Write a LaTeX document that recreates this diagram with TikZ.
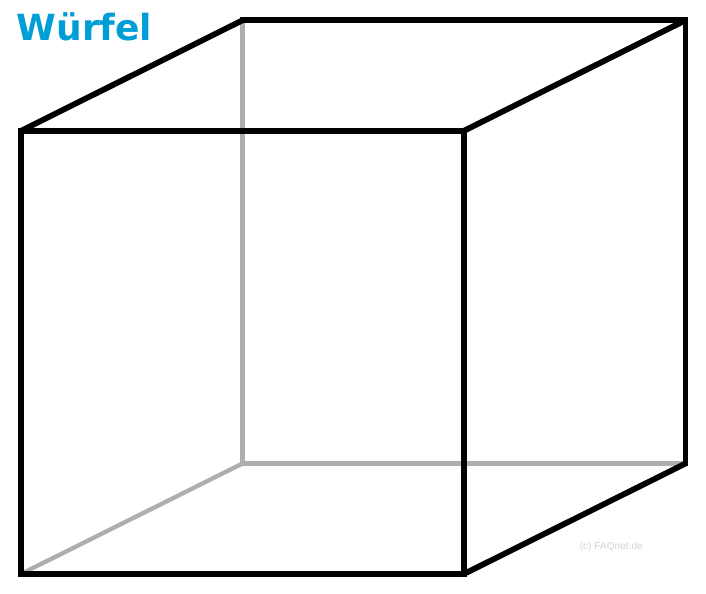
\documentclass[tikz,border=0pt]{standalone}
\usepackage{fontspec}
\setmainfont{DejaVu Sans}
\newfontfamily\markfont{Liberation Sans}
\definecolor{titleblue}{RGB}{0,158,214}
\definecolor{hiddengrey}{RGB}{174,174,174}
\definecolor{markgrey}{RGB}{212,212,212}
\tikzset{
  visibleedge/.style={draw=black,line width=4.3pt,line join=miter,line cap=rect},
  hiddenedge/.style={draw=hiddengrey,line width=3.9pt,line join=miter},
  titletext/.style={font=\fontsize{27pt}{30pt}\selectfont\bfseries,text=titleblue,inner sep=0pt,anchor=base west},
  marktext/.style={font=\markfont\fontsize{7.6pt}{8pt}\selectfont,text=markgrey,inner sep=0pt,anchor=base west}
}
\begin{document}
\begin{tikzpicture}[x=0.75pt,y=-0.75pt]
\useasboundingbox (0,0) rectangle (706,593);
\fill[white] (0,0) rectangle (706,593);
\coordinate (ftl) at (21.3,130.7);
\coordinate (ftr) at (464.2,130.7);
\coordinate (fbl) at (21.3,573.8);
\coordinate (fbr) at (464.2,573.8);
\coordinate (btl) at (242.5,20.3);
\coordinate (btr) at (685.5,20.3);
\coordinate (bbl) at (242.5,463.5);
\coordinate (bbr) at (685.5,463.5);
% hidden edges
\draw[hiddenedge] (btl) -- (bbl) -- (bbr);
\draw[hiddenedge,line width=3.2pt] (fbl) -- (bbl);
% front face and visible edges
\draw[visibleedge] (ftl) -- (ftr);
\draw[visibleedge] (ftr) -- (fbr);
\draw[visibleedge] (fbr) -- (fbl);
\draw[visibleedge] (fbl) -- (ftl);
\draw[visibleedge,line cap=butt] (ftl) -- (btl);
\draw[visibleedge] (btl) -- (btr);
\draw[visibleedge] (btr) -- (bbr);
\draw[visibleedge,line cap=butt] (ftr) -- (btr);
\draw[visibleedge,line cap=butt] (fbr) -- (bbr);
\node[titletext] (title) at (16.5,40) {Würfel};
\node[marktext] (mark) at (579.5,549) {(c) FAQnet.de};
\end{tikzpicture}
\end{document}
